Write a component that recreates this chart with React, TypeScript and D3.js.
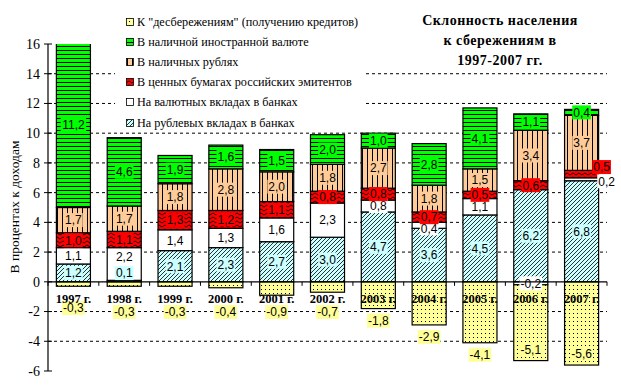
import React from 'react';
import * as d3 from 'd3';

const years = ['1997 г.', '1998 г.', '1999 г.', '2000 г.', '2001 г.', '2002 г.', '2003 г.', '2004 г.', '2005 г.', '2006 г.', '2007 г.'];
const rubDeposits = [1.2, 0.1, 2.1, 2.3, 2.7, 3.0, 4.7, 3.6, 4.5, 6.2, 6.8];
const fxDeposits = [1.1, 2.2, 1.4, 1.3, 1.6, 2.3, 0.8, 0.4, 1.1, -0.2, 0.2];
const securities = [1.0, 1.1, 1.3, 1.2, 1.1, 0.8, 0.8, 0.7, 0.5, 0.6, 0.5];
const cashRub = [1.7, 1.7, 1.8, 2.8, 2.0, 1.8, 2.7, 1.8, 1.5, 3.4, 3.7];
const cashFx = [11.2, 4.6, 1.9, 1.6, 1.5, 2.0, 1.0, 2.8, 4.1, 1.1, 0.4];
const dissaving = [-0.3, -0.3, -0.3, -0.4, -0.9, -0.7, -1.8, -2.9, -4.1, -5.1, -5.6];
const yTicks = [-6, -4, -2, 0, 2, 4, 6, 8, 10, 12, 14, 16];

const series = [
  { key: 'rub', name: 'На рублевых вкладах в банках', values: rubDeposits, fill: 'url(#pRub)', labelBg: '#CCFFFF' },
  { key: 'fx', name: 'На валютных вкладах в банках', values: fxDeposits, fill: '#FFFFFF', labelBg: '#FFFFFF' },
  { key: 'sec', name: 'В ценных бумагах российских эмитентов', values: securities, fill: 'url(#pSec)', labelBg: '#FF0000' },
  { key: 'cashRub', name: 'В наличных рублях', values: cashRub, fill: 'url(#pCashRub)', labelBg: '#FFCC99' },
  { key: 'cashFx', name: 'В наличной иностранной валюте', values: cashFx, fill: 'url(#pCashFx)', labelBg: '#00FF00' },
  { key: 'dis', name: 'К "десбережениям" (получению кредитов)', values: dissaving, fill: 'url(#pDis)', labelBg: '#FFFF99' },
];

// labels that were moved by hand in the original
const labelShift: Record<string, [number, number]> = {
  '1997 г.|dis': [0, -4],
  '1998 г.|rub': [0, -8],
  '1998 г.|fx': [0, -7],
  '2004 г.|fx': [0, 3],
  '2007 г.|fx': [25, 2],
  '2007 г.|sec': [20, -7],
};

const fmt = (v: number) => v.toFixed(1).replace('.', ',');
const textW = (s: string) => s.split('').reduce((w, c) => w + (c === ',' ? 3.3 : c === '-' ? 4 : 6.7), 0);

const serif = { fontFamily: 'Liberation Serif' };
const sans = { fontFamily: 'Liberation Sans' };

export default function App() {
  const W = 621, H = 386;
  const x = d3.scaleBand<string>().domain(years).range([48, 607]).paddingInner(0.33).paddingOuter(0.165);
  const y = d3.scaleLinear().domain([-6, 16]).range([371, 44]);

  const rows = years.map((yr, i) => {
    const r: any = { year: yr };
    series.forEach(s => (r[s.key] = s.values[i]));
    return r;
  });
  const stacked = d3.stack<any>().keys(series.map(s => s.key)).offset(d3.stackOffsetDiverging)(rows);
  const bw = x.bandwidth();

  const labels: any[] = [];
  stacked.forEach((layer, si) => {
    const s = series[si];
    layer.forEach((d, i) => {
      const v = s.values[i];
      const yr = years[i];
      let cy = (y(d[0]) + y(d[1])) / 2;
      if (s.key === 'dis') {
        const bottom = y(d[0]);
        cy = Math.max(bottom + 12, 312);
        if (cy > 360) cy = bottom - 11;
      }
      const sh = labelShift[`${yr}|${s.key}`] || [0, 0];
      const cx = x(yr)! + bw / 2 + sh[0];
      cy = Math.max(cy + sh[1], 52);
      const t = fmt(v);
      const tw = textW(t) + 2;
      labels.push(
        <g key={`${s.key}-${i}`}>
          <rect x={cx - tw / 2} y={cy - 7} width={tw} height={14} fill={s.labelBg} />
          <text x={cx} y={cy} dy="0.36em" textAnchor="middle" style={sans} fontSize={12} fill="#000">{t}</text>
        </g>
      );
    });
  });

  const legendOrder = [...series].reverse();
  const legendRows = [22, 42, 62, 82, 102, 123];

  return (
    <svg width={W} height={H} style={{ position: 'absolute', left: 0, top: 0, background: '#fff' }}>
      <defs>
        <pattern id="pRub" width={4} height={4} patternUnits="userSpaceOnUse">
          <rect width={4} height={4} fill="#CCFFFF" />
          <path d="M-1,1 L1,-1 M0,4 L4,0 M3,5 L5,3" stroke="#000" strokeWidth={0.8} />
        </pattern>
        <pattern id="pSec" width={6} height={4} patternUnits="userSpaceOnUse">
          <rect width={6} height={4} fill="#FF0000" />
          <path d="M0,3 L3,1 L6,3" stroke="#000" strokeWidth={0.9} fill="none" />
        </pattern>
        <pattern id="pCashRub" width={5} height={5} patternUnits="userSpaceOnUse">
          <rect width={5} height={5} fill="#FFCC99" />
          <path d="M2.5,0 L2.5,5" stroke="#000" strokeWidth={1} />
        </pattern>
        <pattern id="pCashFx" width={4} height={4} patternUnits="userSpaceOnUse">
          <rect width={4} height={4} fill="#00FF00" />
          <path d="M0,2.5 L4,2.5" stroke="#000" strokeWidth={1} />
        </pattern>
        <pattern id="pDis" width={4} height={4} patternUnits="userSpaceOnUse">
          <rect width={4} height={4} fill="#FFFF99" />
          <rect x={1} y={1} width={1} height={1} fill="#000" />
        </pattern>
        <clipPath id="plot">
          <rect x={48} y={44} width={560} height={327} />
        </clipPath>
      </defs>

      {/* gridlines */}
      {yTicks.filter(t => t !== 0 && t !== 16 && t !== -6).map(t => (
        <line key={t} x1={48} x2={607} y1={y(t)} y2={y(t)} stroke="#000" strokeDasharray="3,3" strokeWidth={1} />
      ))}

      {/* legend */}
      <rect x={115} y={6} width={250} height={124} fill="#fff" />
      {legendOrder.map((s, i) => (
        <g key={s.key}>
          <rect x={126.5} y={legendRows[i] - 3.5} width={7} height={7} fill={s.fill} stroke="#000" strokeWidth={0.8} />
          <text x={137} y={legendRows[i]} dy="0.35em" style={serif} fontSize={12.2}>{s.name}</text>
        </g>
      ))}

      {/* title */}
      <g style={serif} fontWeight="bold" fontSize={14} textAnchor="middle" letterSpacing={0.5}>
        <text x={500} y={20} dy="0.35em">Склонность населения</text>
        <text x={500} y={40} dy="0.35em">к сбережениям в</text>
        <text x={500} y={60} dy="0.35em">1997-2007 гг.</text>
      </g>

      {/* bars */}
      <g clipPath="url(#plot)">
        {stacked.map((layer, si) => (
          <g key={series[si].key}>
            {layer.map((d, i) => {
              const y0 = y(d[0]), y1 = y(d[1]);
              return (
                <rect key={i} x={x(years[i])} y={Math.min(y0, y1)} width={bw} height={Math.abs(y0 - y1)}
                  fill={series[si].fill} stroke="#000" strokeWidth={1.2} />
              );
            })}
          </g>
        ))}
      </g>

      {/* y axis */}
      <line x1={48} x2={48} y1={44} y2={371} stroke="#000" strokeWidth={1.2} />
      {yTicks.map(t => (
        <g key={t}>
          <line x1={44} x2={52} y1={y(t)} y2={y(t)} stroke="#000" />
          <text x={40} y={y(t)} dy="0.35em" textAnchor="end" style={serif} fontSize={14}>{t}</text>
        </g>
      ))}

      {labels}

      {/* x axis */}
      <line x1={48} x2={607} y1={y(0)} y2={y(0)} stroke="#000" strokeWidth={1.2} />
      {[...years.map(yr => x(yr)! - x.step() * x.paddingInner() / 2), 607].map((bx, i) => (
        <line key={i} x1={bx} x2={bx} y1={y(0)} y2={y(0) + 4} stroke="#000" />
      ))}
      {years.map(yr => (
        <text key={yr} x={x(yr)! + bw / 2} y={299} dy="0.35em" textAnchor="middle" style={serif}
          fontWeight="bold" fontSize={12.5}>{yr}</text>
      ))}

      <text transform="translate(14,207) rotate(-90)" textAnchor="middle" dy="0.35em" style={serif} fontSize={13.5}>
        В процентах к доходам
      </text>
    </svg>
  );
}
